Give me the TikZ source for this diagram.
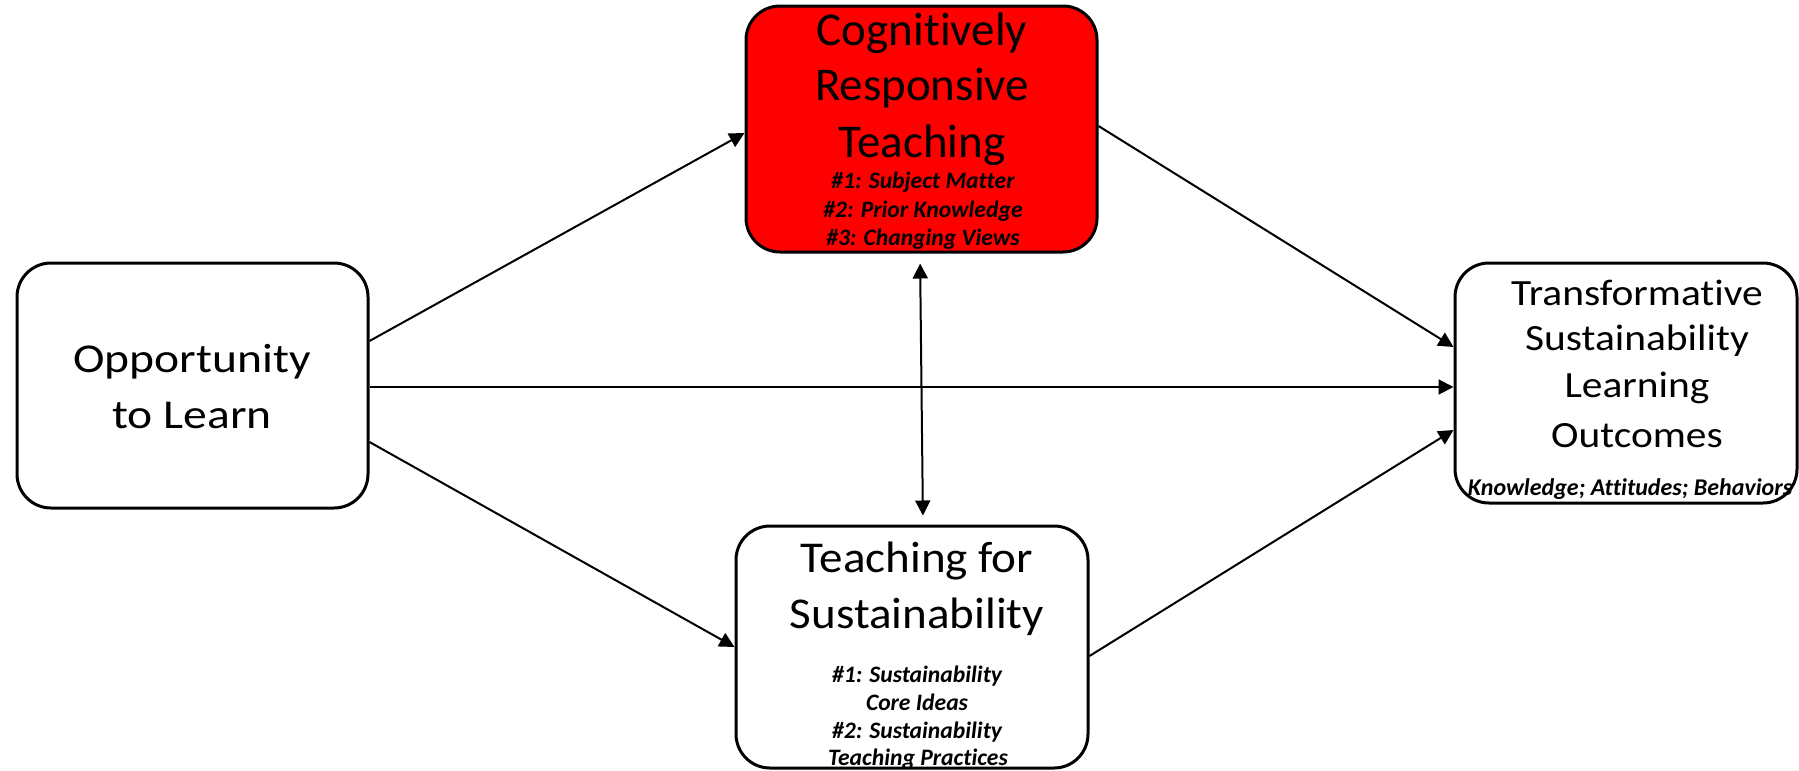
\documentclass[tikz,border=0pt]{standalone}
\usepackage{fontspec}
\setmainfont[Ligatures={NoCommon}]{Carlito}
\newfontfamily\oppfont[FakeStretch=1.16,Ligatures={NoCommon}]{Carlito}
\newfontfamily\tfsfont[FakeStretch=1.07,Ligatures={NoCommon}]{Carlito}
\newfontfamily\trfont[FakeStretch=1.12,Ligatures={NoCommon}]{Carlito}
\usetikzlibrary{arrows.meta}
\definecolor{boxred}{RGB}{255,0,0}
\tikzset{
  box/.style={draw, line width=1.5pt, rounded corners=17pt, inner sep=0pt, fill=white},
  conn/.style={line width=1pt, -{Triangle[length=7.5pt,width=7.5pt]}},
  biconn/.style={line width=1pt, {Triangle[length=7.5pt,width=7.5pt]}-{Triangle[length=7.5pt,width=7.5pt]}},
  txt/.style={anchor=base, inner sep=0pt},
  big/.style={txt, font=\fontsize{23.5pt}{28pt}\selectfont},
  opptxt/.style={txt, font=\oppfont\fontsize{20.5pt}{28pt}\selectfont},
  tfstxt/.style={txt, font=\tfsfont\fontsize{22pt}{28pt}\selectfont},
  trtxt/.style={txt, font=\trfont\fontsize{18.5pt}{23pt}\selectfont},
  small/.style={txt, font=\fontsize{11.8pt}{14pt}\selectfont\bfseries\itshape},
}
\begin{document}
\begin{tikzpicture}[x=0.5pt, y=-0.5pt]
\useasboundingbox (0,0) rectangle (1799,771);
% boxes
\node[box, minimum width=175.5pt, minimum height=122.5pt] (opp) at (192.5,385.5) {};
\node[box, fill=boxred, minimum width=175.5pt, minimum height=123pt] (cog) at (921.5,129) {};
\node[box, minimum width=176pt, minimum height=121pt] (tfs) at (912,647) {};
\node[box, minimum width=171pt, minimum height=120pt] (tr) at (1626,383) {};
% texts
\node[opptxt] (opp1) at (192,372) {Opportunity};
\node[opptxt] (opp2) at (192,428) {to Learn};
\node[big] (cog1) at (922,45) {Cognitively};
\node[big] (cog2) at (922,100) {Responsive};
\node[big] (cog3) at (922,157) {Teaching};
\node[small] (cog4) at (923,188) {\#1: Subject Matter};
\node[small] (cog5) at (923,217) {\#2: Prior Knowledge};
\node[small] (cog6) at (923,245) {\#3: Changing Views};
\node[tfstxt] (tfs1) at (917,572) {Teaching for};
\node[tfstxt] (tfs2) at (917,628) {Sustainability};
\node[small] (tfs3) at (917,682) {\#1: Sustainability};
\node[small] (tfs4) at (917,710) {Core Ideas};
\node[small] (tfs5) at (917,738) {\#2: Sustainability};
\node[small] (tfs6) at (918,765) {Teaching Practices};
\node[trtxt] (tr1) at (1637,305) {Transformative};
\node[trtxt] (tr2) at (1637,350) {Sustainability};
\node[trtxt] (tr3) at (1637,397) {Learning};
\node[trtxt] (tr4) at (1637,447) {Outcomes};
\node[small, font=\fontsize{12pt}{14pt}\selectfont\bfseries\itshape] (tr5) at (1630,495) {Knowledge; Attitudes; Behaviors};
% connectors
\draw[conn] ([yshift=22.25pt]opp.east) -- ([yshift=-2pt]cog.west);
\draw[conn] ([yshift=-0.75pt]opp.east) -- ([yshift=-0.75pt]opp.east -| tr.west);
\draw[conn] ([yshift=-28.25pt]opp.east) -- (tfs.west);
\draw[conn] ([yshift=1.5pt]cog.east) -- ([yshift=18pt]tr.west);
\draw[conn] ([yshift=-4.5pt]tfs.east) -- ([yshift=-23.5pt]tr.west);
\draw[biconn, shorten <=5pt, shorten >=4.5pt] ([xshift=-0.75pt]cog.south) -- ([xshift=5.5pt]tfs.north);
\end{tikzpicture}
\end{document}
